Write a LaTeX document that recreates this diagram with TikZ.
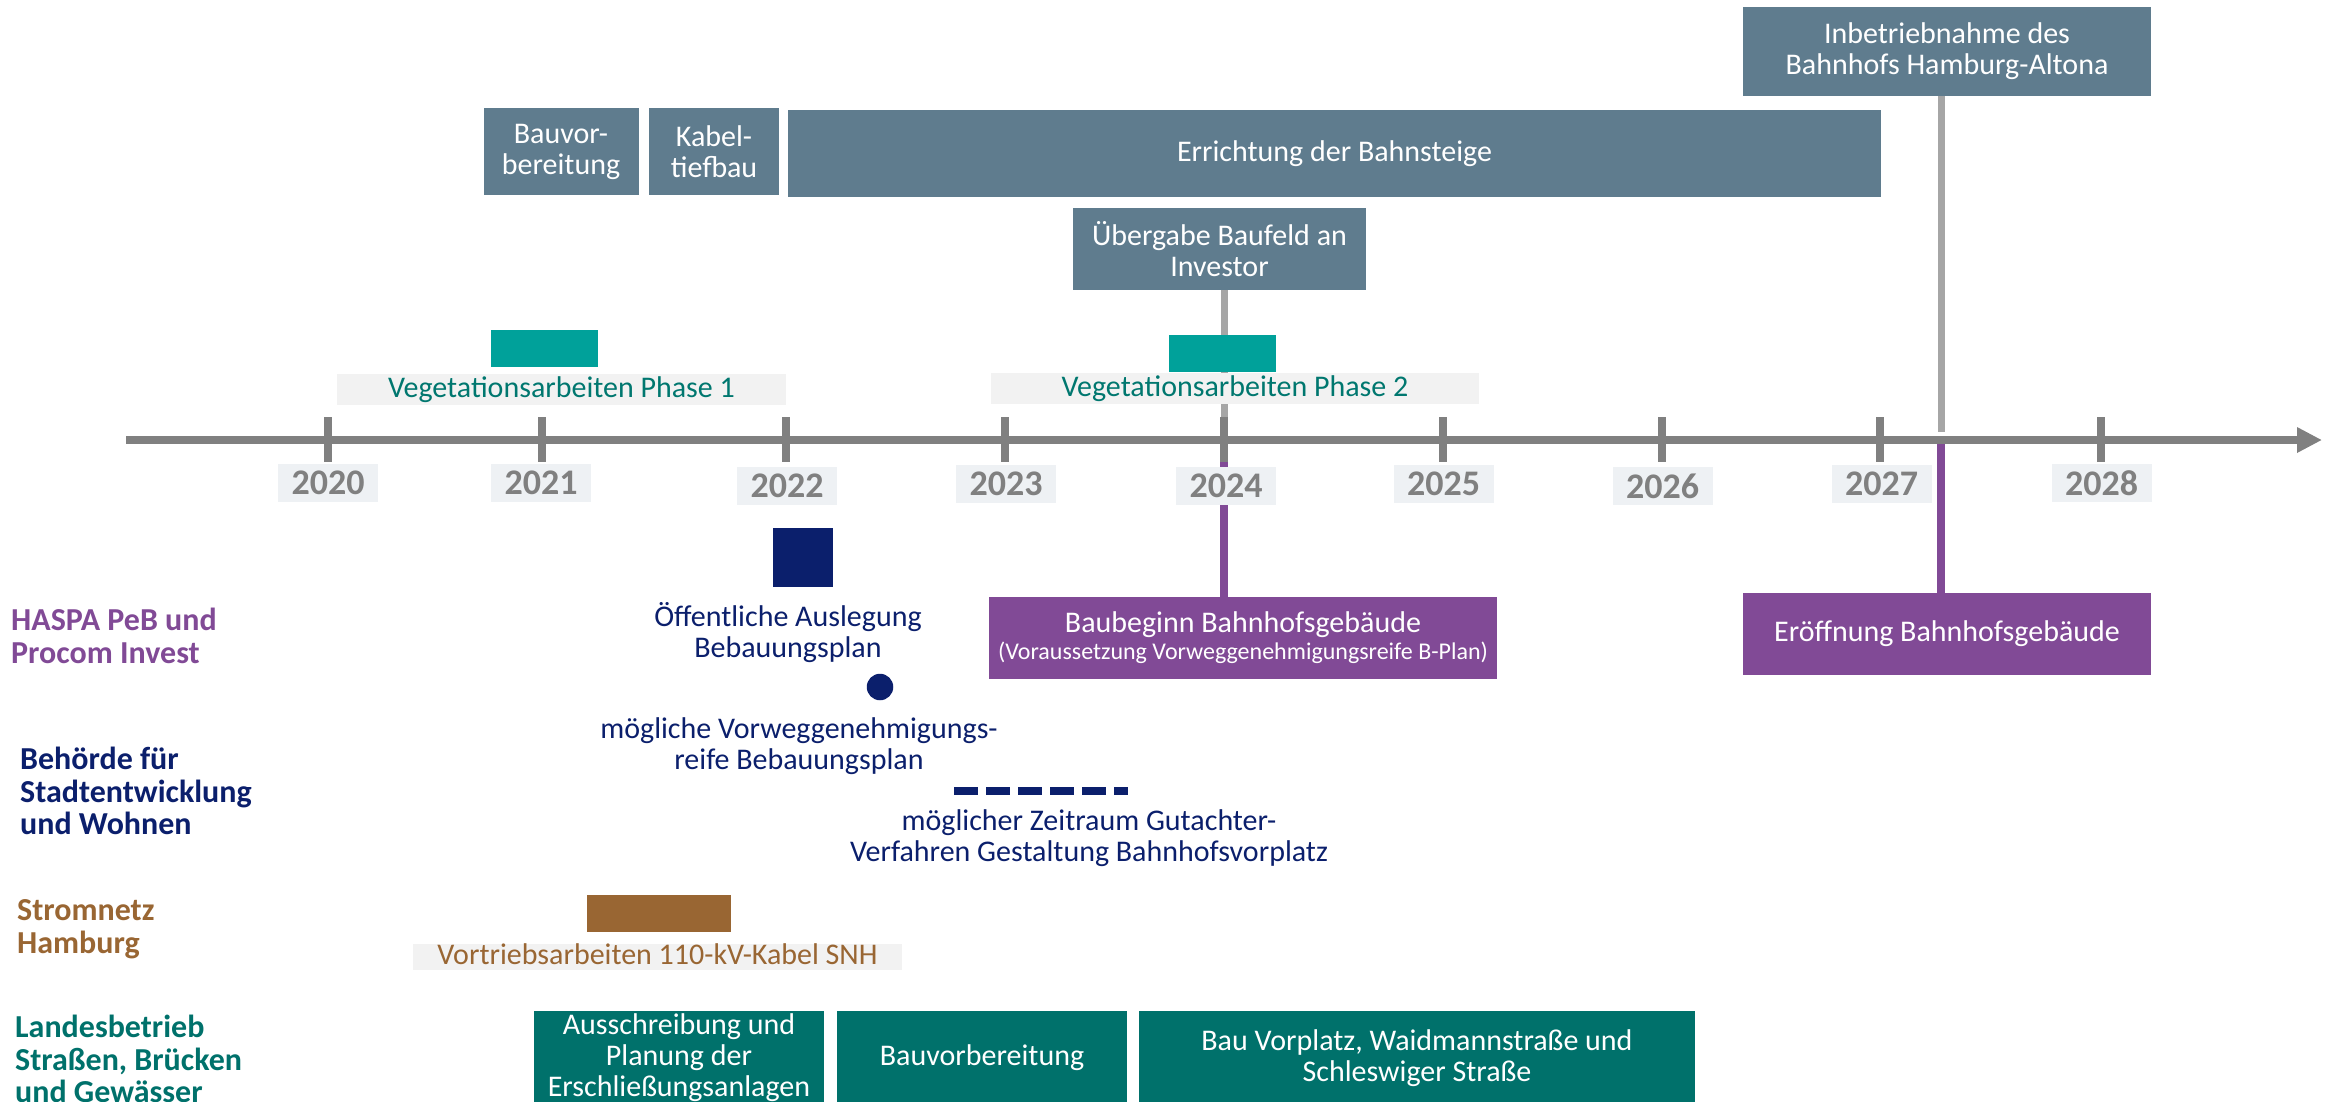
\documentclass[tikz,border=0pt]{standalone}
\usepackage{fontspec}
\setmainfont{Carlito}
\usetikzlibrary{arrows.meta}
\definecolor{dbgray}{HTML}{5F7C8E}
\definecolor{vteal}{HTML}{00A19A}
\definecolor{dteal}{HTML}{00716B}
\definecolor{vegtext}{HTML}{00776F}
\definecolor{purp}{HTML}{814A96}
\definecolor{navy}{HTML}{0B1F6C}
\definecolor{brown}{HTML}{996633}
\definecolor{axisgray}{HTML}{808080}
\definecolor{congray}{HTML}{A6A6A6}
\definecolor{yearbg}{HTML}{EEF1F4}
\definecolor{yeartext}{HTML}{808080}
\definecolor{labelbg}{HTML}{F2F2F2}
\tikzset{
  txt/.style={font=\fontsize{30}{31}\selectfont, align=center, inner sep=0pt},
  gbox/.style={txt, fill=dbgray, text=white},
  tbox/.style={txt, fill=dteal, text=white},
  pbox/.style={txt, fill=purp, text=white},
  solidbar/.style={inner sep=0pt},
  lbl/.style={txt, fill=labelbg},
  yearlbl/.style={inner sep=0pt, fill=yearbg, text=yeartext, font=\bfseries\fontsize{36}{36}\selectfont, minimum width=100, minimum height=38},
  side/.style={inner sep=0pt, align=left, anchor=west, font=\bfseries\fontsize{32}{32.5}\selectfont},
  axisline/.style={draw=axisgray, line width=8pt},
  tickline/.style={draw=axisgray, line width=8pt},
  gcon/.style={draw=congray, line width=7pt},
  pcon/.style={draw=purp, line width=8pt},
}
\begin{document}
\begin{tikzpicture}[x=1pt,y=-1pt]
\useasboundingbox (0,0) rectangle (2331,1101);
\clip (0,0) rectangle (2331,1101);

% axis coordinates
\coordinate (axstart) at (126,440);
\coordinate (axend) at (2322,440);
\coordinate (t2020) at (327.5,440);
\coordinate (t2021) at (541.5,440);
\coordinate (t2022) at (786,440);
\coordinate (t2023) at (1004.5,440);
\coordinate (t2024) at (1224,440);
\coordinate (t2025) at (1443,440);
\coordinate (t2026) at (1662,440);
\coordinate (t2027) at (1880,440);
\coordinate (t2028) at (2101,440);
\coordinate (m27) at (1941,440);
\coordinate (m27top) at (1941,432);

% top boxes
\node[gbox, minimum width=155, minimum height=87] (bv) at (561,151.5) {Bauvor-\\bereitung};
\node[gbox, minimum width=130, minimum height=87] (kt) at (714,151.5) {Kabel-\\tiefbau};
\node[gbox, minimum width=1093, minimum height=87] (eb) at (1334.5,153.5) {Errichtung der Bahnsteige};
\node[gbox, minimum width=293, minimum height=82] (ub) at (1219.5,249) {Übergabe Baufeld an\\Investor};
\node[gbox, minimum width=408, minimum height=89] (inb) at (1947,51.5) {Inbetriebnahme des\\Bahnhofs Hamburg-Altona};

% bottom purple boxes
\node[pbox, minimum width=508, minimum height=82] (bau) at (1243,638) {Baubeginn Bahnhofsgebäude\\[-4pt]{\fontsize{24}{27}\selectfont (Voraussetzung Vorweggenehmigungsreife B-Plan)}};
\node[pbox, minimum width=408, minimum height=82] (eroef) at (1947,634) {Eröffnung Bahnhofsgebäude};

% connectors (behind)
\draw[gcon] (t2024 |- ub.south) -- (t2024);
\draw[gcon] (m27 |- inb.south) -- (m27top);
\draw[pcon] (t2024) -- (t2024 |- bau.north);
\draw[pcon] (m27) -- (m27 |- eroef.north);

% vegetation
\node[solidbar, fill=vteal, minimum width=107, minimum height=37] (v1) at (544.5,348.5) {};
\node[lbl, text=vegtext, minimum width=449, minimum height=31] (v1l) at (561.5,389.5) {Vegetationsarbeiten Phase 1};
\node[solidbar, fill=vteal, minimum width=107, minimum height=37] (v2) at (1222.5,353.5) {};
\node[lbl, text=vegtext, minimum width=488, minimum height=31] (v2l) at (1235,388.5) {Vegetationsarbeiten Phase 2};

% axis
\draw[axisline, -{Triangle[length=25pt,width=24pt]}] (axstart) -- (axend);
\foreach \t in {t2020, t2021, t2022, t2023, t2024, t2025, t2026, t2027, t2028}{
  \draw[tickline] ([yshift=23pt]\t) -- ([yshift=-22pt]\t);
}

% year labels
\node[yearlbl] (y2020) at (328,483) {2020};
\node[yearlbl] (y2021) at (541,483) {2021};
\node[yearlbl] (y2022) at (787,486) {2022};
\node[yearlbl] (y2023) at (1006,484) {2023};
\node[yearlbl] (y2024) at (1226,486) {2024};
\node[yearlbl] (y2025) at (1443.5,484) {2025};
\node[yearlbl] (y2026) at (1662.5,486) {2026};
\node[yearlbl] (y2027) at (1881.5,484) {2027};
\node[yearlbl] (y2028) at (2101.5,483) {2028};

% Behoerde items
\node[solidbar, fill=navy, minimum width=60, minimum height=59] (sq) at (803,557.5) {};
\node[txt, text=navy] (oeff) at (788,633) {Öffentliche Auslegung\\Bebauungsplan};
\node[circle, fill=navy, inner sep=0pt, minimum size=26.5] (dot) at (880,687) {};
\node[txt, text=navy] (vorw) at (799,746) {mögliche Vorweggenehmigungs-\\reife Bebauungsplan};
\coordinate (dashA) at (954,791);
\coordinate (dashB) at (1128,791);
\draw[navy, line width=8pt, dash pattern=on 24pt off 8pt] (dashA) -- (dashB);
\node[txt, text=navy] (gut) at (1089,838) {möglicher Zeitraum Gutachter-\\Verfahren Gestaltung Bahnhofsvorplatz};

% Stromnetz
\node[solidbar, fill=brown, minimum width=144, minimum height=37] (sb) at (659,913.5) {};
\node[lbl, text=brown, minimum width=489, text height=20pt, text depth=6pt] (sbl) at (657.5,957) {Vortriebsarbeiten 110-kV-Kabel SNH};

% LSBG boxes
\node[tbox, minimum width=290, minimum height=94] (ab) at (679,1058) {Ausschreibung und\\Planung der\\Erschließungsanlagen};
\node[tbox, minimum width=290, minimum height=94] (bvb) at (982,1058) {Bauvorbereitung};
\node[tbox, minimum width=556, minimum height=94] (bvp) at (1417,1058) {Bau Vorplatz, Waidmannstraße und\\Schleswiger Straße};

% side labels
\node[side, text=purp] (haspa) at (11,636) {HASPA PeB und\\Procom Invest};
\node[side, text=navy] (beh) at (20,791) {Behörde für\\Stadtentwicklung\\und Wohnen};
\node[side, text=brown] (strom) at (17,929) {Stromnetz\\Hamburg};
\node[side, text=dteal] (lbs) at (15,1059) {Landesbetrieb\\Straßen, Brücken\\und Gewässer};
\end{tikzpicture}
\end{document}
